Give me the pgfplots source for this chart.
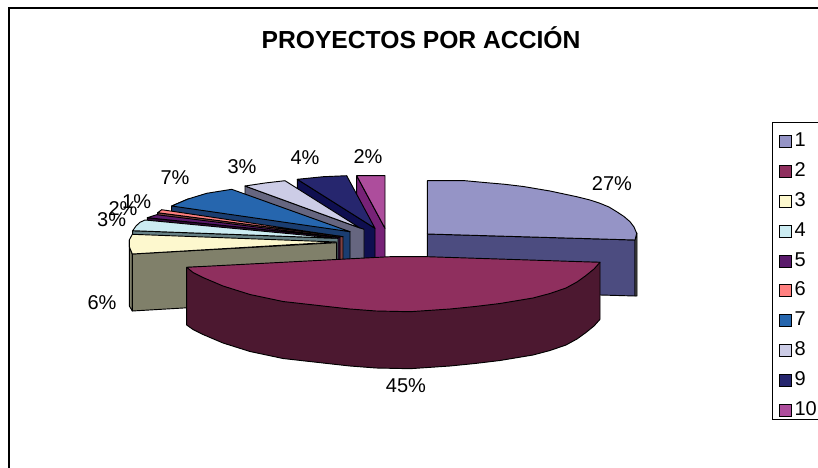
\documentclass[border=0pt]{standalone}
\usepackage{pgfplots}
\pgfplotsset{compat=1.18}
\usepackage{fontspec}
\setmainfont{Liberation Sans}
\definecolor{aT}{HTML}{9594C6}\definecolor{aS}{HTML}{4C4C80}
\definecolor{bT}{HTML}{8F2F5E}\definecolor{bS}{HTML}{4C1830}
\definecolor{cT}{HTML}{FDF8CE}\definecolor{cS}{HTML}{80806A}
\definecolor{dT}{HTML}{CCECF2}\definecolor{dS}{HTML}{668085}
\definecolor{eT}{HTML}{5A1A6B}\definecolor{eS}{HTML}{300A35}
\definecolor{fT}{HTML}{FF8080}\definecolor{fS}{HTML}{804040}
\definecolor{gT}{HTML}{2666AE}\definecolor{gS}{HTML}{1A3D70}
\definecolor{hT}{HTML}{CCCCE6}\definecolor{hS}{HTML}{666680}
\definecolor{iT}{HTML}{26266E}\definecolor{iS}{HTML}{0F0F50}
\definecolor{jT}{HTML}{AD4D9C}\definecolor{jS}{HTML}{772277}
\pgfplotsset{sl/.style={draw=black,line width=0.7bp,line join=round,forget plot}}
\begin{document}
\begin{tikzpicture}
\path[use as bounding box] (0,0) rectangle (613.5bp,351bp);
\begin{axis}[at={(0,0)},anchor=south west,scale only axis,width=613.5bp,height=351bp,
  hide axis,xmin=0,xmax=818,ymin=0,ymax=468,y dir=reverse,clip=false,
  legend cell align=left,
  legend image code/.code={\draw[#1,line width=0.7bp] (0bp,-8.25bp) rectangle (9bp,0.75bp);},
  legend style={at={(axis cs:772.3,122.3)},anchor=north west,draw=black,line width=0.7bp,font=\fontsize{15bp}{15bp}\selectfont,
    inner xsep=4.7bp,inner ysep=0bp,row sep=1.2bp,nodes={inner ysep=0pt,text height=18.15bp,text depth=3bp},/tikz/every even column/.append style={column sep=7.5bp}}]
\addlegendimage{fill=aT,draw=black}\addlegendentry{1}
\addlegendimage{fill=bT,draw=black}\addlegendentry{2}
\addlegendimage{fill=cT,draw=black}\addlegendentry{3}
\addlegendimage{fill=dT,draw=black}\addlegendentry{4}
\addlegendimage{fill=eT,draw=black}\addlegendentry{5}
\addlegendimage{fill=fT,draw=black}\addlegendentry{6}
\addlegendimage{fill=gT,draw=black}\addlegendentry{7}
\addlegendimage{fill=hT,draw=black}\addlegendentry{8}
\addlegendimage{fill=iT,draw=black}\addlegendentry{9}
\addlegendimage{fill=jT,draw=black}\addlegendentry{10}
% outer frame
\addplot[draw=black,line width=0.9bp,forget plot] coordinates {(9,468)(9,8)(818,8)};
% slice 10
\addplot[sl,fill=jS] coordinates {(356.7,175.7)(385,228.3)(385,285)(356.7,232)} --cycle;
\addplot[sl,fill=jT] coordinates {(356.7,175.7)(385,175.7)(385,228.3)} --cycle;
% slice 9
\addplot[sl,fill=iS] coordinates {(297.3,179.3)(375,228.3)(375,285)(297.3,236)} --cycle;
\addplot[sl,fill=iT] coordinates {(297.3,179.3)(323.3,176.7)(346.7,175.7)(375,228.3)} --cycle;
% slice 8
\addplot[sl,fill=hS] coordinates {(245,186)(360,228)(364,229.3)(364,286)(245,243)} --cycle;
\addplot[sl,fill=hT] coordinates {(245,186)(265,183)(285,180.7)(360,228)} --cycle;
% slice 7
\addplot[sl,fill=gS] coordinates {(171.7,206)(188,199)(350,231.7)(350,289)(171.7,263)} --cycle;
\addplot[sl,fill=gT] coordinates {(171.7,206)(188,199)(206.7,193.3)(231.7,189.3)(350,231.7)} --cycle;
% slice 6
\addplot[sl,fill=fS] coordinates {(157.7,212.7)(343,236.7)(343,293)(157.7,270)} --cycle;
\addplot[sl,fill=fT] coordinates {(157.7,212.7)(161.7,209.7)(343,236.7)} --cycle;
% slice 5
\addplot[sl,fill=eS] coordinates {(147.3,217.7)(340,237.3)(340,294)(147.3,275)} --cycle;
\addplot[sl,fill=eT] coordinates {(147.3,217.7)(156.7,214.7)(340,237.3)} --cycle;
% slice 4
\addplot[sl,fill=dS] coordinates {(132.7,230.7)(338,238.3)(338,295)(132.7,288)} --cycle;
\addplot[sl,fill=dT] coordinates {(132.7,230.7)(136,226)(140,222.3)(145,220)(338,238.3)} --cycle;
% slice 3
\addplot[sl,fill=cS] coordinates {(129.3,240)(129.3,246.7)(132.3,254)(132.3,311)(129.3,306)} --cycle;
\addplot[sl,fill=cS] coordinates {(132.3,254)(336.7,242.7)(336.7,299)(132.3,311)} --cycle;
\addplot[sl,fill=cT] coordinates {(132.3,254)(129.3,246.7)(129.3,240)(132.3,234.3)(336.7,242)} --cycle;
% slice 1
\addplot[sl,fill=aS] coordinates {(427.3,234)(635,240)(635,296)(427.3,290)} --cycle;
\addplot[sl,fill=black!70] coordinates {(635,240)(637,233)(637,296)(635,296)} --cycle;
\addplot[sl,fill=aT] coordinates {(427.3,234)(427.3,180.7)(465,180.7)(486.7,182.7)(505,184.3)(523.3,186.5)(550,191)(576.7,196.7)(590,200)(600,203.3)(609,207)(616.7,211.7)(624,216.5)(630,221.7)(634,227)(636.7,233.3)(635,240)} --cycle;
% slice 2
\addplot[sl,fill=bS] coordinates {(186.7,267.3)(600,262.3)(600,319.3)(594,326)(586,332.5)(577,339)(566,345)(550,350.5)(533,355)(500,360.5)(475,363.5)(450,366)(410,368.7)(376,368)(350,366)(323,363)(283,358.5)(250,351.5)(223,343)(203,334.5)(193,329.5)(186.7,325)} --cycle;
\addplot[sl,fill=bT] coordinates {(186.7,267.3)(390,256.7)(427.3,256.7)(600,262.3)(594,269)(586,275.5)(577,282)(566,288)(550,293.5)(533,298)(500,303.5)(475,306.5)(450,309)(410,311.7)(376,311)(350,309)(323,306)(283,301.5)(250,294.5)(223,286)(203,277.5)(193,272.5)} --cycle;
% text
\node[font=\fontsize{18.5bp}{19bp}\selectfont\bfseries] at (axis cs:421,37.5) {PROYECTOS POR ACCIÓN};
\foreach \x/\y/\t in {612/184/27,406/386/45,102/303/6,111.7/220/3,123/209/2,136.7/201.7/1,175/178/7,242/167/3,305/158/4,368/157/2}{
 \edef\tmp{\noexpand\node[font=\noexpand\fontsize{15bp}{15bp}\noexpand\selectfont] at (axis cs:\x,\y) {\t\noexpand\%};}\tmp}
\end{axis}
\end{tikzpicture}
\end{document}
